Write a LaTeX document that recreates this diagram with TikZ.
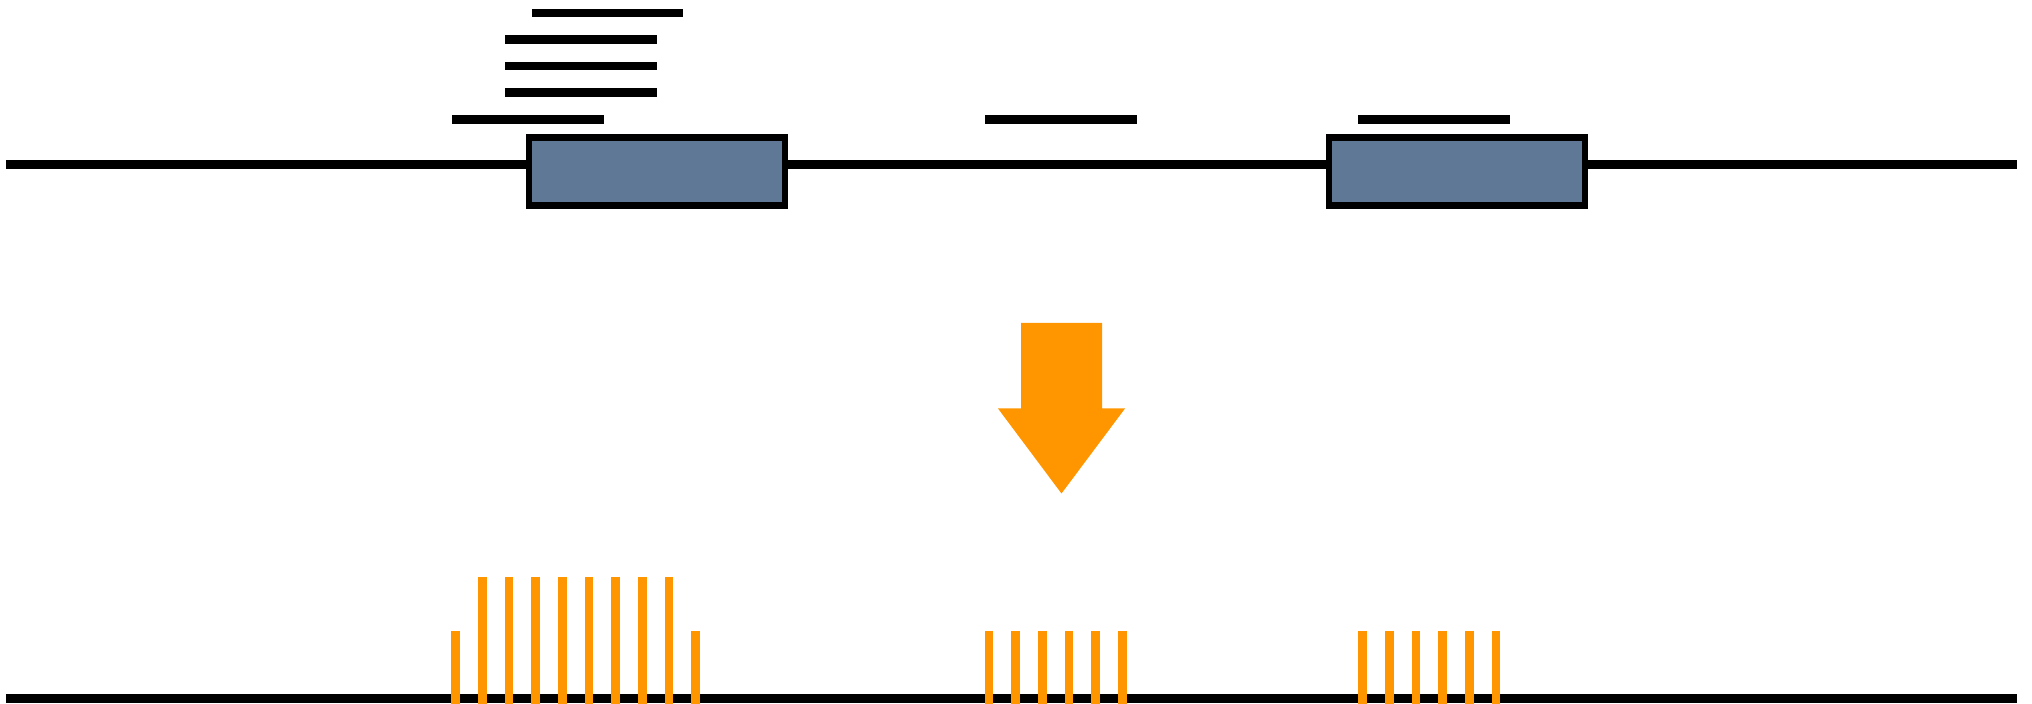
\documentclass[tikz,border=0pt]{standalone}
\definecolor{exon}{RGB}{95,120,150}
\definecolor{orng}{RGB}{255,150,0}
\begin{document}
\begin{tikzpicture}[x=0.01cm,y=-0.01cm,
  gene/.style={line width=0.09cm,draw=black},
  readline/.style={line width=0.088cm,draw=black},
  exonbox/.style={draw=black,line width=0.065cm,fill=exon,minimum width=2.56cm,minimum height=0.68cm,inner sep=0pt},
  bar/.style={line width=0.088cm,draw=orng}]
\useasboundingbox (0,0) rectangle (2032,704);
% top gene model
\coordinate (gl) at (6,164.5);
\coordinate (gr) at (2017,164.5);
\node[exonbox] (e1) at (657,171.5) {};
\node[exonbox] (e2) at (1457,171.5) {};
\draw[gene] (gl) -- (gl -| e1.west);
\draw[gene] (gl -| e1.east) -- (gl -| e2.west);
\draw[gene] (gl -| e2.east) -- (gr);
% reads
\draw[readline] (532,13) -- (683,13);
\foreach \y in {39.3,66,92.7} \draw[readline] (505,\y) -- (657,\y);
\draw[readline] (452,119.3) -- (604,119.3);
\draw[readline] (985,119.3) -- (1137,119.3);
\draw[readline] (1358,119.3) -- (1510,119.3);
% arrow
\fill[orng] (1021,323) -- (1102,323) -- (1102,408.5) -- (1125,408.5) -- (1061.5,493.5) -- (998,408.5) -- (1021,408.5) -- cycle;
% bottom coverage
\coordinate (bl) at (6,698.5);
\coordinate (br) at (2017,698.5);
\draw[gene] (bl) -- (br);
\foreach \x in {455.7,695.7,989,1015.8,1042.4,1069,1095.8,1122.5,1362.6,1389.3,1416,1442.7,1469.4,1496}
  \draw[bar] (\x,630.7) -- (\x,704);
\foreach \x in {482.3,509,535.7,562.3,589,615.7,642.3,669}
  \draw[bar] (\x,576.7) -- (\x,704);
\end{tikzpicture}
\end{document}
